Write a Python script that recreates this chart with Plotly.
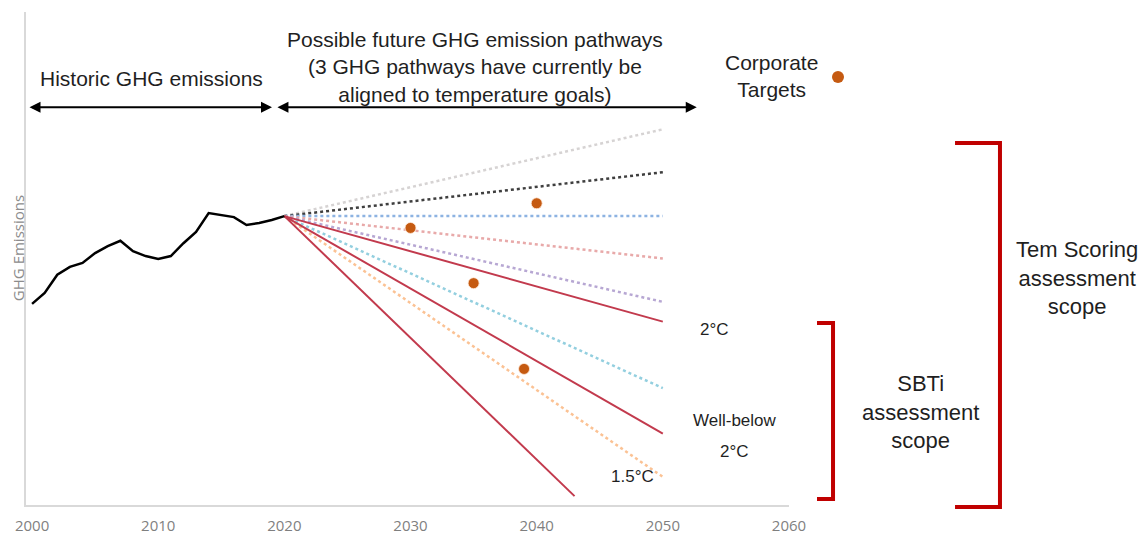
import plotly.graph_objects as go

# historic emissions (index units)
hist_years = list(range(2000, 2021))
hist_ghg = [40.8, 43.0, 46.7, 48.3, 49.1, 51.1, 52.5, 53.6, 51.5, 50.5, 49.9,
            50.5, 53.1, 55.4, 59.2, 58.8, 58.4, 56.8, 57.2, 57.8, 58.6]

# possible future pathways (dotted), 2020 -> 2050
path_years = [2020, 2050]
path_ends = [76.2, 67.5, 58.6, 50.0, 41.2, 23.7, 5.7]
path_colors = ['#d6d3d3', '#3f3f3f', '#8db3e2', '#e8a9a9', '#b7a7d3', '#93cfdf', '#fbc294']

# temperature aligned pathways (solid)
temp_labels = ['2°C', 'Well-below 2°C', '1.5°C']
temp_years = [[2020, 2050], [2020, 2050], [2020, 2043]]
temp_values = [[58.6, 37.2], [58.6, 14.5], [58.6, 1.8]]

# corporate targets
target_years = [2030, 2035, 2039, 2040]
target_values = [56.2, 45.0, 27.6, 61.2]

x_ticks = [2000, 2010, 2020, 2030, 2040, 2050, 2060]

RED = '#c23a4d'
DARK_RED = '#c00000'
TARGET = '#c55a11'
TXT = dict(family='Liberation Sans, Arial', size=21, color='#1f1f1f')
SMALL = dict(family='Liberation Sans, Arial', size=17, color='#1f1f1f')

fig = go.Figure()

start = hist_ghg[-1]
for end, col in zip(path_ends, path_colors):
    fig.add_trace(go.Scatter(x=path_years, y=[start, end], mode='lines',
                             line=dict(color=col, width=2.5, dash='dot'),
                             hoverinfo='skip'))

for xs, ys, name in zip(temp_years, temp_values, temp_labels):
    fig.add_trace(go.Scatter(x=xs, y=ys, mode='lines', name=name,
                             line=dict(color=RED, width=2)))

fig.add_trace(go.Scatter(x=hist_years, y=hist_ghg, mode='lines',
                         line=dict(color='black', width=2.5), name='Historic'))

fig.add_trace(go.Scatter(x=target_years, y=target_values, mode='markers',
                         marker=dict(color=TARGET, size=11,
                                     line=dict(color='rgba(255,235,220,0.8)', width=1)),
                         name='Corporate Targets'))

annotations = [
    dict(x=2009.5, y=86.6, text='Historic GHG emissions', font=TXT),
    dict(x=2035.1, y=88.8, text='Possible future GHG emission pathways<br>'
         '(3 GHG pathways have currently be<br>aligned to temperature goals)', font=TXT),
    dict(x=2058.6, y=87.0, text='Corporate<br>Targets', font=TXT),
    dict(x=2054.1, y=35.5, text='2°C', font=SMALL),
    dict(x=2055.7, y=17.2, text='Well-below', font=SMALL),
    dict(x=2055.7, y=10.8, text='2°C', font=SMALL),
    dict(x=2047.6, y=5.7, text='1.5°C', font=SMALL),
]
for a in annotations:
    fig.add_annotation(showarrow=False, xref='x', yref='y', xanchor='center', **a)

# double headed arrows
for x0, x1 in [(1999.68, 2019.02), (2019.33, 2052.69)]:
    fig.add_annotation(x=x1, y=80.7, ax=x0, ay=80.7, xref='x', yref='y',
                       axref='x', ayref='y', text='', showarrow=True,
                       arrowhead=2, arrowside='end+start', arrowsize=1.1,
                       arrowwidth=2, arrowcolor='black')

# right side scope texts
fig.add_annotation(x=1.3775, y=0.4604, xref='paper', yref='paper', showarrow=False,
                   xanchor='center', yanchor='middle',
                   text='Tem Scoring<br>assessment<br>scope',
                   font=dict(family='Liberation Sans, Arial', size=22, color='#1f1f1f'))
fig.add_annotation(x=1.1717, y=0.1886, xref='paper', yref='paper', showarrow=False,
                   xanchor='center', yanchor='middle',
                   text='SBTi<br>assessment<br>scope',
                   font=dict(family='Liberation Sans, Arial', size=22, color='#1f1f1f'))

# y axis title
fig.add_annotation(x=-0.0105, y=0.521, xref='paper', yref='paper', showarrow=False,
                   xanchor='center', yanchor='middle',
                   text='GHG Emissions', textangle=-90,
                   font=dict(family='Open Sans', size=15, color='#8c8c8c'))

# brackets
fig.add_shape(type='path', xref='paper', yref='paper',
              path='M 1.2176,0.7343 L 1.2765,0.7343 L 1.2765,-0.004 L 1.2176,-0.004',
              line=dict(color=DARK_RED, width=4))
fig.add_shape(type='path', xref='paper', yref='paper',
              path='M 1.0367,0.3692 L 1.0577,0.3692 L 1.0577,0.0122 L 1.0367,0.0122',
              line=dict(color=DARK_RED, width=4))

# legend dot
fig.add_shape(type='circle', xref='paper', yref='paper', xsizemode='pixel',
              ysizemode='pixel', xanchor=1.0642, yanchor=0.868,
              x0=-6, x1=6, y0=-6, y1=6, fillcolor=TARGET, line=dict(width=0))

fig.update_layout(
    width=1146, height=535,
    margin=dict(l=26, r=357, t=12, b=30),
    plot_bgcolor='white', paper_bgcolor='white',
    showlegend=False,
    xaxis=dict(range=[1999.52, 2060], tickvals=x_ticks, showgrid=False,
               zeroline=False, showline=True, linecolor='#d9d9d9', linewidth=2,
               ticks='', ticklabelstandoff=6, automargin=False,
               tickfont=dict(family='Open Sans', size=15, color='#7f7f7f')),
    yaxis=dict(range=[0, 100], showticklabels=False, showgrid=False,
               zeroline=False, showline=True, linecolor='#d9d9d9', linewidth=2,
               ticks='', automargin=False),
)

fig.write_html('out.html', config={'displayModeBar': False},
               post_script="document.body.style.margin='0';")
